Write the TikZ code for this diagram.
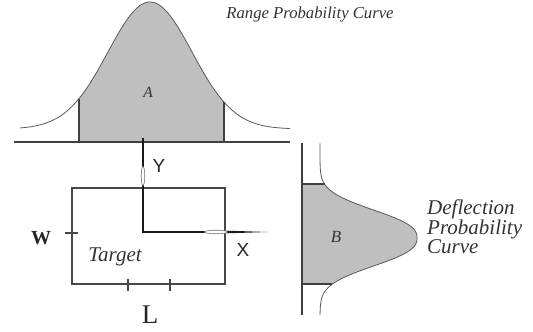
\documentclass[tikz,border=0pt]{standalone}
\usepackage{fontspec}
\setmainfont{Liberation Serif}
\newfontfamily\sansf{Liberation Sans}
\begin{document}
\begin{tikzpicture}[x=1pt,y=-1pt,
  curveline/.style={draw=black!65, line width=0.8pt},
  baseline line/.style={draw=black!75, line width=1.3pt},
  shade/.style={fill=black!25},
  axisline/.style={draw=black!90, line width=2.6pt},
  boxline/.style={draw=black!72, line width=1.2pt},
  ital/.style={font=\itshape, text=black!80, inner sep=0pt},
  lbl/.style={text=black!85, inner sep=0pt},
  sliver/.style={draw=black!55, fill=white, line width=0.6pt}]
\useasboundingbox (0,0) rectangle (533,332);
% ---------- range probability curve ----------
\fill[shade] (79,142) -- plot[domain=79:224, samples=80]
  (\x, {129-127*exp(-0.5*((\x-150)/42)^2)}) -- (224,142) -- cycle;
\draw[curveline] plot[domain=20:290, samples=160]
  (\x, {129-127*exp(-0.5*((\x-150)/42)^2)});
\coordinate (ra1) at (79,142); \coordinate (ra2) at (79,{129-127*exp(-0.5*((79-150)/42)^2)});
\coordinate (rb1) at (224,142); \coordinate (rb2) at (224,{129-127*exp(-0.5*((224-150)/42)^2)});
\draw[baseline line] (ra1) -- (ra2);
\draw[baseline line] (rb1) -- (rb2);
\coordinate (bl) at (14,142); \coordinate (br) at (290,142);
\draw[baseline line] (bl) -- (br);
\node[ital, font=\itshape\fontsize{16.7}{19}\selectfont] (rangelbl) at (310,15) {Range Probability Curve};
\node[ital, font=\itshape\fontsize{15.5}{18}\selectfont] (A) at (148,92) {A};
% ---------- deflection probability curve ----------
\fill[shade] (302,184) -- plot[domain=184:284, samples=80]
  ({320+97*exp(-(pow((abs(\x-238)+0.01)/34.5,2.5)))}, \x) -- (302,284) -- cycle;
\draw[curveline] plot[domain=143:315, samples=160]
  ({320+97*exp(-(pow((abs(\x-238)+0.01)/34.5,2.5)))}, \x);
\coordinate (dt) at (302,143); \coordinate (db) at (302,315);
\draw[baseline line] (dt) -- (db);
\coordinate (da1) at (302,184); \coordinate (da2) at ({320+97*exp(-(pow(54/34.5,2.5)))},184);
\coordinate (db1) at (302,284); \coordinate (db2) at ({320+97*exp(-(pow(46/34.5,2.5)))},284);
\draw[baseline line] (da1) -- (da2);
\draw[baseline line] (db1) -- (db2);
\node[ital, font=\itshape\fontsize{17}{18}\selectfont] (B) at (336,237) {B};
\node[ital, font=\itshape\fontsize{21}{19}\selectfont, align=left, anchor=west] (deflbl) at (427,227)
  {Deflection\\Probability\\Curve};
% ---------- target ----------
\coordinate (t1) at (72,188); \coordinate (t2) at (225,284);
\draw[boxline] (t1) rectangle (t2);
\coordinate (w1) at (65,233); \coordinate (w2) at (78,233);
\draw[boxline] (w1) -- (w2);
\coordinate (l1a) at (128,279); \coordinate (l1b) at (128,291);
\coordinate (l2a) at (170,279); \coordinate (l2b) at (170,291);
\draw[boxline] (l1a) -- (l1b);
\draw[boxline] (l2a) -- (l2b);
\node[lbl, font=\bfseries\fontsize{20}{22}\selectfont] (W) at (41,238) {W};
\node[lbl, font=\fontsize{27}{30}\selectfont] (L) at (150,315) {L};
\node[ital, font=\itshape\fontsize{21}{22}\selectfont] (T) at (115,257) {Target};
% ---------- axes ----------
\coordinate (C) at (143,232);
\coordinate (ytop) at (143,138);
\coordinate (ys1) at (143,185); \coordinate (ys2) at (143,167);
\coordinate (xs1) at (205,232); \coordinate (xs2) at (227,232);
\coordinate (xend) at (268,232);
\draw[axisline, line cap=rect] (C) -- (ys1);
\draw[axisline] (ys2) -- (ytop);
\draw[axisline, line cap=rect] (C) -- (xs1);
\fill[black!90] (227,230.7) -- (xend) -- (227,233.3) -- cycle;
\draw[sliver] (143,176) ellipse (1.8 and 9.5);
\draw[sliver] (216,232) ellipse (11.5 and 1.8);
\node[lbl, font=\sansf\fontsize{19}{20}\selectfont] (Y) at (159,166) {Y};
\node[lbl, font=\sansf\fontsize{19}{20}\selectfont] (X) at (243,250) {X};
\end{tikzpicture}
\end{document}
